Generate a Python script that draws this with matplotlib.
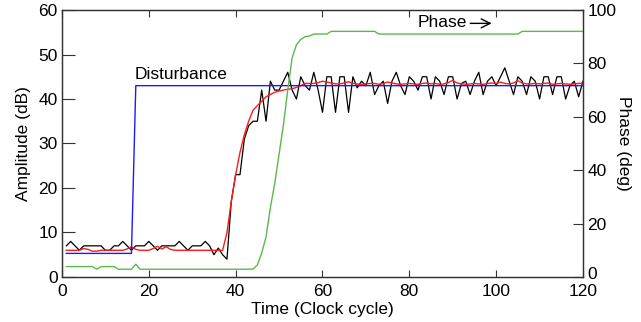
import matplotlib
matplotlib.use("Agg")
import matplotlib.pyplot as plt
import matplotlib.transforms as mtransforms

plt.rcParams["font.family"] = ["Liberation Sans", "DejaVu Sans"]

# clock cycles 1..120
cycles = list(range(1, 121))

# measured amplitude (dB), black
amplitude = [
    7, 8, 7, 6, 7, 7, 7, 7, 7, 6,
    6, 7, 7, 8, 7, 6, 7, 7, 7, 8,
    7, 6, 7, 7, 7, 7, 8, 7, 6, 7,
    7, 7, 8, 7, 5, 6.5, 5, 4, 17, 23,
    23, 31, 34, 35, 35, 42, 35, 44, 42, 42,
    44, 46, 42, 40, 45, 43, 42, 46, 42, 37,
    45, 45, 37, 45, 45, 37, 45, 42.5, 44, 43,
    46, 41, 43, 44, 39, 44, 46, 43, 41, 45,
    44, 42, 45, 45, 40, 45, 44, 41, 45, 45,
    40, 43.5, 44, 41, 44, 46, 41, 44, 45, 43,
    45, 47, 44, 41, 45, 44, 41, 45, 44, 40,
    45, 45, 41, 45, 45, 40, 43, 44, 40.5, 44,
]

# filtered amplitude (dB), red
filtered = [
    6, 6, 6, 6, 6.4, 6.2, 5.8, 5.8, 6, 6,
    6, 6, 6, 6, 6.3, 6.8, 6.2, 6, 6, 6,
    6.4, 6.9, 6.3, 6.8, 6.2, 6, 6, 6, 6, 6,
    6, 6, 6, 6, 6, 6, 6, 10, 17, 23,
    28, 32, 35, 37.5, 38.5, 39.5, 40.5, 41, 41.5, 41.8,
    42, 42.2, 42.3, 42.6, 43, 43.5, 43.5, 43.5, 43.7, 44,
    43.8, 43.6, 43.4, 43.4, 43.6, 43.9, 43.5, 43.4, 43.3, 43.4,
    43.5, 43.5, 43.3, 43.5, 43.8, 43.6, 43.4, 43.3, 43.4, 43.5,
    43.4, 43.3, 43.5, 43.6, 43.4, 43.5, 43.3, 43.4, 43.7, 44.2,
    43.6, 43.4, 43.3, 43.4, 43.5, 43.4, 43.3, 43.5, 43.6, 43.5,
    43.8, 43.5, 43.4, 43.6, 44.1, 43.6, 43.4, 43.4, 43.5, 43.4,
    43.5, 43.6, 43.3, 43.4, 43.5, 43.4, 43.3, 43.4, 43.5, 43.6,
]

# disturbance step (dB), blue
dist_x = [1, 16, 17, 120]
dist_y = [5.3, 5.3, 43, 43]

# phase (deg), green, right axis
phase = [
    3.9, 3.9, 3.9, 3.9, 3.9, 3.9, 3.9, 2.9, 3.9, 3.9,
    3.9, 3.9, 2.9, 2.9, 2.9, 2.9, 4.8, 2.9, 2.9, 2.9,
    2.9, 2.9, 2.9, 2.9, 2.9, 2.9, 2.9, 2.9, 2.9, 2.9,
    2.9, 2.9, 2.9, 2.9, 2.9, 2.9, 2.9, 2.9, 2.9, 2.9,
    2.9, 2.9, 2.9, 3.0, 4.5, 9, 15, 26, 35, 46,
    57, 70, 82, 87, 89, 90, 90.3, 91, 91, 91,
    91, 92, 92, 92, 92, 92, 92, 92, 92, 92,
    92, 92, 91, 91, 91, 91, 91, 91, 91, 91,
    91, 91, 91, 91, 91, 91, 91, 91, 91, 91,
    91, 91, 91, 91, 91, 91, 91, 91, 91, 91,
    91, 91, 91, 91, 91, 92, 92, 92, 92, 92,
    92, 92, 92, 92, 92, 92, 92, 92, 92, 92,
]

FS = 12.5

fig = plt.figure(figsize=(6.41, 3.22), dpi=100)
ax = fig.add_axes([0.0967, 0.1398, 0.8128, 0.8291])
ax2 = ax.twinx()

ax.plot(cycles, amplitude, color="black", linewidth=0.9)
ax.plot(cycles, filtered, color="#ff1a1a", linewidth=1.0)
ax.plot(dist_x, dist_y, color="#1a1aff", linewidth=1.0)
ax2.plot(cycles, phase, color="#5cb84a", linewidth=1.0)

ax.set_xlim(0, 120)
ax.set_ylim(0, 60)
ax2.set_ylim(0, 100)
ax.set_xticks(range(0, 121, 20))
ax.set_yticks(range(0, 61, 10))
ax2.set_yticks(range(0, 101, 20))

ax.tick_params(axis="x", direction="in", top=True, length=5, width=0.8,
               labelsize=FS, pad=5, colors="#333333", labelcolor="black")
ax.tick_params(axis="y", direction="in", right=False, length=9, width=0.8,
               labelsize=FS, pad=3, colors="#333333", labelcolor="black")
ax2.tick_params(axis="y", direction="in", length=7, width=0.8,
                labelsize=FS, pad=3, colors="#333333", labelcolor="black")

# lift the right-hand "0" a touch so it clears the "120" below it
fig.canvas.draw()
lbl0 = ax2.get_yticklabels()[0]
lbl0.set_transform(lbl0.get_transform() +
                   mtransforms.ScaledTranslation(0, 3 / 72, fig.dpi_scale_trans))

for a in (ax, ax2):
    for s in a.spines.values():
        s.set_color("#333333")
        s.set_linewidth(0.9)

ax.set_xlabel("Time (Clock cycle)", fontsize=FS, labelpad=2)
ax.set_ylabel("Amplitude (dB)", fontsize=FS, labelpad=5)
ax2.set_ylabel("Phase (deg)", fontsize=FS, rotation=270, labelpad=11)

ax.text(16.8, 45.4, "Disturbance", fontsize=FS, va="center", ha="left")
ax.text(81.8, 57.1, "Phase", fontsize=FS, va="center", ha="left")
ax.annotate("", xy=(99.6, 57.0), xytext=(93.4, 57.0),
            arrowprops=dict(arrowstyle="->", color="black", lw=1.0,
                            mutation_scale=16))

fig.savefig("out.png", dpi=100)
